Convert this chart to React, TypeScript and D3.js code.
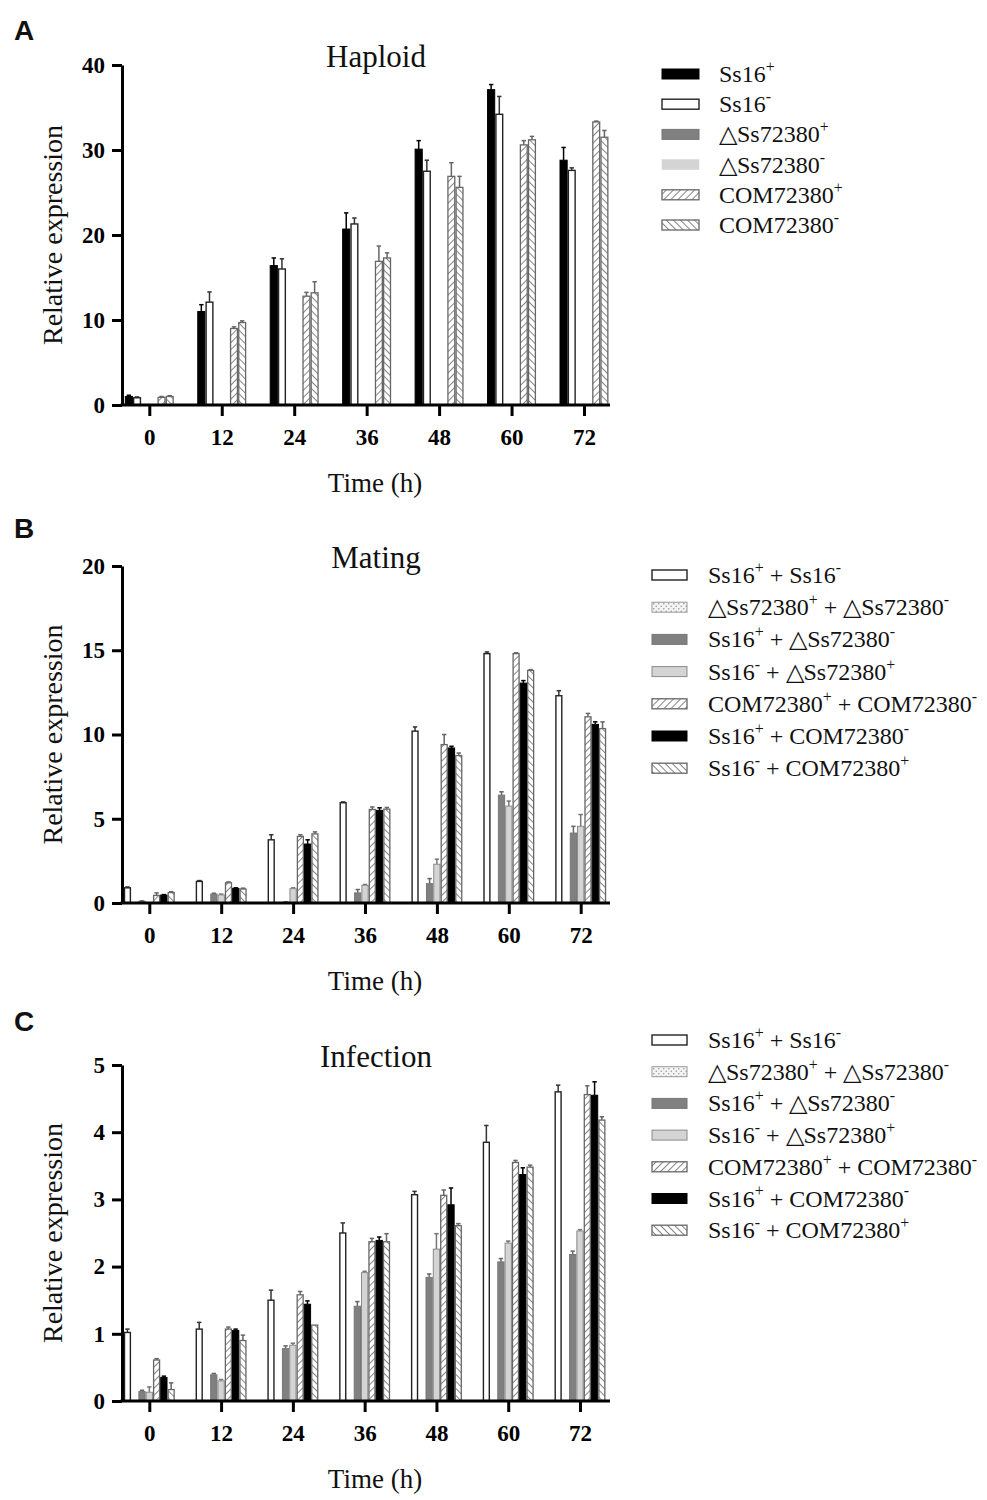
import React, { useEffect, useRef } from "react";
import * as d3 from "d3";

// ---------- data ----------
const times = ["0", "12", "24", "36", "48", "60", "72"];

// Panel A: Haploid
const hapLabels = ["Ss16^+", "Ss16^-", "△Ss72380^+", "△Ss72380^-", "COM72380^+", "COM72380^-"];
const hapStyles = ["black", "white", "dark", "lightA", "hatchF", "hatchB"];
const hapSs16P = [1.0, 11.0, 16.4, 20.7, 30.1, 37.1, 28.8];
const hapSs16PErr = [0.15, 0.8, 0.9, 1.9, 1.0, 0.6, 1.5];
const hapSs16M = [0.85, 12.1, 16.0, 21.3, 27.5, 34.2, 27.6];
const hapSs16MErr = [0.1, 1.2, 1.2, 0.7, 1.3, 2.1, 0.3];
const hapDeltaP = [0, 0, 0, 0, 0, 0, 0];
const hapDeltaPErr = [0, 0, 0, 0, 0, 0, 0];
const hapDeltaM = [0, 0, 0, 0, 0, 0, 0];
const hapDeltaMErr = [0, 0, 0, 0, 0, 0, 0];
const hapComP = [0.9, 9.0, 12.8, 16.9, 26.9, 30.6, 33.3];
const hapComPErr = [0.1, 0.2, 0.45, 1.8, 1.6, 0.5, 0.1];
const hapComM = [1.0, 9.7, 13.2, 17.3, 25.6, 31.2, 31.5];
const hapComMErr = [0.1, 0.2, 1.3, 0.6, 1.3, 0.4, 0.8];
const hapTicks = [0, 10, 20, 30, 40];

// Panels B & C share series
const pairLabels = [
  "Ss16^+^ + Ss16^-",
  "△Ss72380^+^ + △Ss72380^-",
  "Ss16^+^ + △Ss72380^-",
  "Ss16^-^ + △Ss72380^+",
  "COM72380^+^ + COM72380^-",
  "Ss16^+^ + COM72380^-",
  "Ss16^-^ + COM72380^+",
];
const pairStyles = ["white", "dots", "dark", "light", "hatchF", "black", "hatchB"];

// Panel B: Mating
const matWT = [0.9, 1.28, 3.75, 5.95, 10.2, 14.8, 12.3];
const matWTErr = [0.05, 0.05, 0.3, 0.05, 0.25, 0.1, 0.3];
const matDD = [0, 0, 0, 0, 0, 0, 0];
const matDDErr = [0, 0, 0, 0, 0, 0, 0];
const matPD = [0.1, 0.53, 0.05, 0.6, 1.15, 6.4, 4.15];
const matPDErr = [0.03, 0.05, 0.02, 0.2, 0.3, 0.2, 0.4];
const matMD = [0, 0.48, 0.85, 1.05, 2.3, 5.75, 4.55];
const matMDErr = [0, 0.05, 0.05, 0.05, 0.3, 0.3, 0.7];
const matCC = [0.45, 1.2, 3.95, 5.55, 9.4, 14.8, 11.05];
const matCCErr = [0.15, 0.05, 0.1, 0.15, 0.6, 0.05, 0.2];
const matPC = [0.47, 0.87, 3.5, 5.5, 9.2, 13.05, 10.6];
const matPCErr = [0.03, 0.03, 0.25, 0.15, 0.1, 0.15, 0.15];
const matMC = [0.62, 0.83, 4.1, 5.57, 8.75, 13.8, 10.35];
const matMCErr = [0.05, 0.05, 0.12, 0.1, 0.15, 0.05, 0.4];
const matTicks = [0, 5, 10, 15, 20];

// Panel C: Infection
const infWT = [1.02, 1.07, 1.5, 2.5, 3.07, 3.85, 4.6];
const infWTErr = [0.05, 0.1, 0.15, 0.15, 0.05, 0.25, 0.1];
const infDD = [0, 0, 0, 0, 0, 0, 0];
const infDDErr = [0, 0, 0, 0, 0, 0, 0];
const infPD = [0.14, 0.39, 0.78, 1.41, 1.84, 2.07, 2.18];
const infPDErr = [0.02, 0.02, 0.04, 0.07, 0.05, 0.05, 0.05];
const infMD = [0.13, 0.3, 0.83, 1.91, 2.26, 2.35, 2.53];
const infMDErr = [0.08, 0.02, 0.03, 0.02, 0.23, 0.03, 0.02];
const infCC = [0.61, 1.07, 1.58, 2.37, 3.06, 3.55, 4.56];
const infCCErr = [0.02, 0.03, 0.05, 0.05, 0.08, 0.03, 0.13];
const infPC = [0.35, 1.05, 1.44, 2.39, 2.92, 3.37, 4.55];
const infPCErr = [0.02, 0.02, 0.05, 0.05, 0.25, 0.1, 0.2];
const infMC = [0.17, 0.9, 1.13, 2.37, 2.61, 3.48, 4.18];
const infMCErr = [0.1, 0.08, 0.0, 0.12, 0.03, 0.03, 0.05];
const infTicks = [0, 1, 2, 3, 4, 5];

// ---------- styles ----------
const SERIF = "'Liberation Serif', 'Times New Roman', Times, serif";
const SANS = "'Liberation Sans', Arial, Helvetica, sans-serif";

type Style = { fill: string; stroke: string; sw: number; err: string };
function styleFor(key: string, pid: string): Style {
  switch (key) {
    case "black":
      return { fill: "#000", stroke: "#000", sw: 1, err: "#000" };
    case "white":
      return { fill: "#fff", stroke: "#222", sw: 1.4, err: "#333" };
    case "dark":
      return { fill: "#808080", stroke: "#777", sw: 1, err: "#666" };
    case "light":
      return { fill: "#d4d4d4", stroke: "#8a8a8a", sw: 1, err: "#777" };
    case "lightA":
      return { fill: "#d4d4d4", stroke: "#d4d4d4", sw: 0.5, err: "#999" };
    case "hatchF":
      return { fill: `url(#${pid}-hf)`, stroke: "#666", sw: 1.3, err: "#666" };
    case "hatchB":
      return { fill: `url(#${pid}-hb)`, stroke: "#666", sw: 1.3, err: "#666" };
    case "dots":
      return { fill: `url(#${pid}-dt)`, stroke: "#999", sw: 1, err: "#999" };
  }
  return { fill: "#000", stroke: "#000", sw: 1, err: "#000" };
}

function Label({ text, x, y, size }: { text: string; x: number; y: number; size: number }) {
  // "^" toggles superscript
  const parts = text.split("^");
  const kids: React.ReactNode[] = [];
  let raised = false;
  parts.forEach((p, i) => {
    const sup = i % 2 === 1;
    if (p === "") return;
    let dy = 0;
    if (sup && !raised) { dy = -size * 0.42; raised = true; }
    else if (!sup && raised) { dy = size * 0.42; raised = false; }
    kids.push(
      <tspan key={i} dy={dy} fontSize={sup ? size * 0.66 : size}>
        {p}
      </tspan>
    );
  });
  return (
    <text x={x} y={y} fontFamily={SERIF} fontSize={size} fill="#111">
      {kids}
    </text>
  );
}

type PanelProps = {
  pid: string;
  letter: string;
  letterY: number;
  title: string;
  top: number;
  bottom: number;
  yMax: number;
  ticks: number[];
  xEnd: number;
  labels: string[];
  styles: string[];
  means: number[][];
  errs: number[][];
  groupWidth: number;
  legendX: number;
  legendTextX: number;
  legendY0: number;
  legendStep: number;
  swatchW: number;
};

const X0 = 122;
const XEND = 610;

function Panel(p: PanelProps) {
  const yRef = useRef<SVGGElement>(null);
  const xRef = useRef<SVGGElement>(null);

  const y = d3.scaleLinear().domain([0, p.yMax]).range([p.bottom, p.top]);
  const x = d3.scalePoint<string>().domain(times).range([149.3, p.xEnd]);
  const inner = d3
    .scaleBand<number>()
    .domain(d3.range(p.labels.length))
    .range([-p.groupWidth / 2, p.groupWidth / 2])
    .padding(0);

  useEffect(() => {
    const ya = d3
      .axisLeft(y)
      .tickValues(p.ticks)
      .tickSize(10)
      .tickSizeOuter(0)
      .tickPadding(7)
      .tickFormat(d3.format("d"));
    const gy = d3.select(yRef.current!);
    gy.call(ya as any);
    gy.select(".domain").attr("stroke", "#000").attr("stroke-width", 3);
    gy.selectAll(".tick line").attr("stroke", "#000").attr("stroke-width", 3);
    gy.selectAll(".tick text")
      .attr("font-family", SERIF)
      .attr("font-size", 23)
      .attr("font-weight", "bold")
      .attr("fill", "#000");
    gy.attr("font-family", null).attr("font-size", null);

    const xa = d3.axisBottom(x).tickSize(11).tickSizeOuter(0);
    const gx = d3.select(xRef.current!);
    gx.call(xa as any);
    gx.select(".domain").remove();
    gx.selectAll(".tick line").attr("stroke", "#000").attr("stroke-width", 3);
    gx.selectAll(".tick text")
      .attr("y", 40)
      .attr("dy", 0)
      .attr("font-family", SERIF)
      .attr("font-size", 23)
      .attr("font-weight", "bold")
      .attr("fill", "#000");
    gx.attr("font-family", null).attr("font-size", null);
  });

  const midY = (p.top + p.bottom) / 2;

  return (
    <g>
      <defs>
        <pattern id={`${p.pid}-hf`} patternUnits="userSpaceOnUse" width={5} height={5} patternTransform="rotate(45)">
          <rect width={5} height={5} fill="#fff" />
          <line x1={0} y1={0} x2={0} y2={5} stroke="#666" strokeWidth={1.6} />
        </pattern>
        <pattern id={`${p.pid}-hb`} patternUnits="userSpaceOnUse" width={5} height={5} patternTransform="rotate(-45)">
          <rect width={5} height={5} fill="#fff" />
          <line x1={0} y1={0} x2={0} y2={5} stroke="#666" strokeWidth={1.6} />
        </pattern>
        <pattern id={`${p.pid}-dt`} patternUnits="userSpaceOnUse" width={5} height={5}>
          <rect width={5} height={5} fill="#f4f4f4" />
          <circle cx={1.25} cy={1.25} r={0.8} fill="#999" />
          <circle cx={3.75} cy={3.75} r={0.8} fill="#999" />
        </pattern>
      </defs>

      <text x={14} y={p.letterY} fontFamily={SANS} fontWeight="bold" fontSize={28} fill="#111">
        {p.letter}
      </text>
      <text x={376} y={p.top + 1.5} textAnchor="middle" fontFamily={SERIF} fontSize={31} fill="#111">
        {p.title}
      </text>
      <text
        transform={`translate(62,${midY}) rotate(-90)`}
        textAnchor="middle"
        fontFamily={SERIF}
        fontSize={28}
        fill="#111"
      >
        Relative expression
      </text>
      <text x={375} y={p.bottom + 87} textAnchor="middle" fontFamily={SERIF} fontSize={27} fill="#111">
        Time (h)
      </text>

      {/* bars */}
      {p.means.map((series, si) => {
        const st = styleFor(p.styles[si], p.pid);
        return (
          <g key={si}>
            {series.map((v, gi) => {
              const cx = x(times[gi])!;
              const bx = cx + inner(si)!;
              const bw = inner.bandwidth();
              const yt = y(v);
              const e = p.errs[si][gi];
              const mx = bx + bw / 2;
              return (
                <g key={gi}>
                  {e > 0 && (
                    <g stroke={st.err} strokeWidth={1.5}>
                      <line x1={mx} x2={mx} y1={yt} y2={y(v + e)} />
                      <line x1={mx - 2.2} x2={mx + 2.2} y1={y(v + e)} y2={y(v + e)} />
                    </g>
                  )}
                  <rect
                    x={bx + st.sw / 2}
                    y={yt}
                    width={Math.max(0, bw - st.sw)}
                    height={Math.max(0, p.bottom - yt)}
                    fill={st.fill}
                    stroke={st.stroke}
                    strokeWidth={st.sw}
                  />
                </g>
              );
            })}
          </g>
        );
      })}

      {/* axes */}
      <g ref={yRef} transform={`translate(${X0},0)`} />
      <line x1={X0 - 1.5} x2={XEND} y1={p.bottom} y2={p.bottom} stroke="#000" strokeWidth={3} />
      <g ref={xRef} transform={`translate(0,${p.bottom})`} />

      {/* legend */}
      {p.labels.map((lab, i) => {
        const st = styleFor(p.styles[i], p.pid);
        const cy = p.legendY0 + i * p.legendStep;
        return (
          <g key={lab}>
            <rect
              x={p.legendX}
              y={cy - 5}
              width={p.swatchW}
              height={10}
              fill={st.fill}
              stroke={st.stroke}
              strokeWidth={st.sw}
            />
            <Label text={lab} x={p.legendTextX} y={cy + 8} size={24} />
          </g>
        );
      })}
    </g>
  );
}

export default function App() {
  return (
    <svg
      width={987}
      height={1500}
      viewBox="0 0 987 1500"
      style={{ display: "block", background: "#fff", position: "absolute", left: 0, top: 0 }}
    >
      <rect width={987} height={1500} fill="#fff" />
      <Panel
        pid="a"
        letter="A"
        letterY={40}
        title="Haploid"
        top={65}
        bottom={405}
        yMax={40}
        ticks={hapTicks}
        xEnd={584}
        labels={hapLabels}
        styles={hapStyles}
        means={[hapSs16P, hapSs16M, hapDeltaP, hapDeltaM, hapComP, hapComM]}
        errs={[hapSs16PErr, hapSs16MErr, hapDeltaPErr, hapDeltaMErr, hapComPErr, hapComMErr]}
        groupWidth={49}
        legendX={662}
        legendTextX={719}
        legendY0={74}
        legendStep={30.2}
        swatchW={37}
      />
      <Panel
        pid="b"
        letter="B"
        letterY={538}
        title="Mating"
        top={566}
        bottom={903}
        yMax={20}
        ticks={matTicks}
        xEnd={580.7}
        labels={pairLabels}
        styles={pairStyles}
        means={[matWT, matDD, matPD, matMD, matCC, matPC, matMC]}
        errs={[matWTErr, matDDErr, matPDErr, matMDErr, matCCErr, matPCErr, matMCErr]}
        groupWidth={51}
        legendX={652}
        legendTextX={708}
        legendY0={575}
        legendStep={32.2}
        swatchW={35}
      />
      <Panel
        pid="c"
        letter="C"
        letterY={1031}
        title="Infection"
        top={1065}
        bottom={1401}
        yMax={5}
        ticks={infTicks}
        xEnd={580}
        labels={pairLabels}
        styles={pairStyles}
        means={[infWT, infDD, infPD, infMD, infCC, infPC, infMC]}
        errs={[infWTErr, infDDErr, infPDErr, infMDErr, infCCErr, infPCErr, infMCErr]}
        groupWidth={51}
        legendX={652}
        legendTextX={708}
        legendY0={1040}
        legendStep={31.7}
        swatchW={35}
      />
    </svg>
  );
}
